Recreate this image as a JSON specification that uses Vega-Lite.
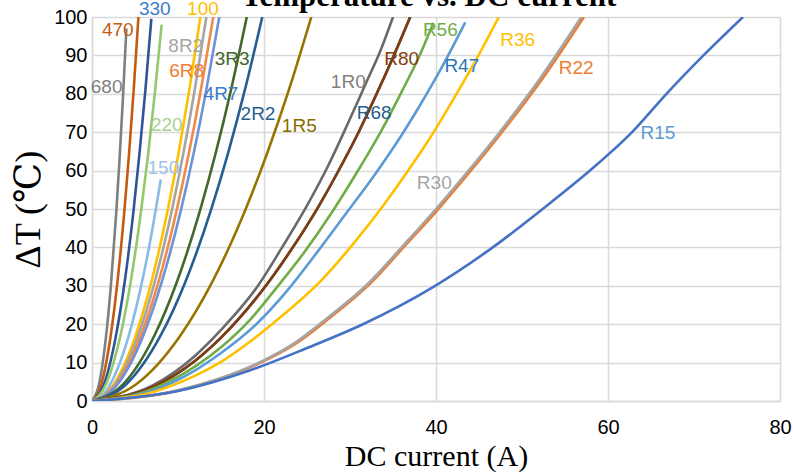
{
  "$schema": "https://vega.github.io/schema/vega-lite/v6.json",
  "width": 688,
  "height": 384,
  "autosize": "none",
  "padding": {"left": 92, "top": 17, "right": 13, "bottom": 71},
  "background": "white",
  "title": {
    "text": "Temperature vs. DC current",
    "font": "Liberation Serif",
    "fontSize": 31,
    "fontWeight": "bold",
    "color": "#000000",
    "anchor": "middle",
    "baseline": "alphabetic",
    "offset": -37,
    "dx": -7
  },
  "config": {
    "view": {"stroke": null},
    "axis": {
      "grid": true,
      "gridColor": "#D9D9D9",
      "gridWidth": 1.5,
      "domainColor": "#D9D9D9",
      "domainWidth": 1.5,
      "ticks": false,
      "labelFont": "Liberation Sans Narrow, Liberation Sans",
      "labelFontSize": 20,
      "labelColor": "#000000",
      "titleFont": "Liberation Serif, DejaVu Serif",
      "titleFontWeight": "normal",
      "titleColor": "#000000"
    }
  },
  "datasets": {
    "curves": [
      {"s": "R68", "I": 0, "T": 0}, {"s": "R68", "I": 7, "T": 3.6}, {"s": "R68", "I": 12, "T": 10.5}, {"s": "R68", "I": 15, "T": 16.5}, {"s": "R68", "I": 19.7, "T": 28.5}, {"s": "R68", "I": 23.2, "T": 39.5}, {"s": "R68", "I": 26.3, "T": 50.5}, {"s": "R68", "I": 28.6, "T": 59.7}, {"s": "R68", "I": 31, "T": 70}, {"s": "R68", "I": 33.1, "T": 80}, {"s": "R68", "I": 35.1, "T": 90}, {"s": "R68", "I": 37, "T": 100},

      {"s": "680", "I": 0, "T": 0}, {"s": "680", "I": 0.8, "T": 4.2}, {"s": "680", "I": 1.6, "T": 16.2}, {"s": "680", "I": 2.2, "T": 30.2}, {"s": "680", "I": 2.8, "T": 48.4}, {"s": "680", "I": 3.2, "T": 62.8}, {"s": "680", "I": 3.6, "T": 79}, {"s": "680", "I": 4.0, "T": 97},
      {"s": "470", "I": 0, "T": 0}, {"s": "470", "I": 1.08, "T": 4.3}, {"s": "470", "I": 2.16, "T": 16.8}, {"s": "470", "I": 2.97, "T": 31.2}, {"s": "470", "I": 3.78, "T": 49.9}, {"s": "470", "I": 4.32, "T": 64.7}, {"s": "470", "I": 4.86, "T": 81.4}, {"s": "470", "I": 5.4, "T": 100},
      {"s": "330", "I": 0, "T": 0}, {"s": "330", "I": 1.38, "T": 4.3}, {"s": "330", "I": 2.76, "T": 16.7}, {"s": "330", "I": 3.8, "T": 31}, {"s": "330", "I": 4.83, "T": 49.6}, {"s": "330", "I": 5.52, "T": 64.4}, {"s": "330", "I": 6.21, "T": 81}, {"s": "330", "I": 6.9, "T": 99.5},
      {"s": "220", "I": 0, "T": 0}, {"s": "220", "I": 1.62, "T": 4.3}, {"s": "220", "I": 3.24, "T": 16.4}, {"s": "220", "I": 4.46, "T": 30.5}, {"s": "220", "I": 5.67, "T": 48.9}, {"s": "220", "I": 6.48, "T": 63.4}, {"s": "220", "I": 7.29, "T": 79.8}, {"s": "220", "I": 8.1, "T": 98},
      {"s": "150", "I": 0, "T": 0}, {"s": "150", "I": 1.6, "T": 2.5}, {"s": "150", "I": 3.2, "T": 9.7}, {"s": "150", "I": 4.4, "T": 18}, {"s": "150", "I": 5.6, "T": 28.8}, {"s": "150", "I": 6.4, "T": 37.3}, {"s": "150", "I": 7.2, "T": 47}, {"s": "150", "I": 8.0, "T": 57.7},
      {"s": "100", "I": 0, "T": 0}, {"s": "100", "I": 2.52, "T": 4.3}, {"s": "100", "I": 5.04, "T": 16.8}, {"s": "100", "I": 6.93, "T": 31.2}, {"s": "100", "I": 8.82, "T": 49.9}, {"s": "100", "I": 10.08, "T": 64.7}, {"s": "100", "I": 11.34, "T": 81.4}, {"s": "100", "I": 12.6, "T": 100},
      {"s": "8R2", "I": 0, "T": 0}, {"s": "8R2", "I": 2.66, "T": 4.3}, {"s": "8R2", "I": 5.32, "T": 16.8}, {"s": "8R2", "I": 7.32, "T": 31.2}, {"s": "8R2", "I": 9.31, "T": 49.9}, {"s": "8R2", "I": 10.64, "T": 64.7}, {"s": "8R2", "I": 11.97, "T": 81.4}, {"s": "8R2", "I": 13.3, "T": 100},
      {"s": "6R8", "I": 0, "T": 0}, {"s": "6R8", "I": 2.82, "T": 4.3}, {"s": "6R8", "I": 5.64, "T": 16.8}, {"s": "6R8", "I": 7.76, "T": 31.2}, {"s": "6R8", "I": 9.87, "T": 49.9}, {"s": "6R8", "I": 11.28, "T": 64.7}, {"s": "6R8", "I": 12.69, "T": 81.4}, {"s": "6R8", "I": 14.1, "T": 100},
      {"s": "4R7", "I": 0, "T": 0}, {"s": "4R7", "I": 2.96, "T": 4.3}, {"s": "4R7", "I": 5.92, "T": 16.8}, {"s": "4R7", "I": 8.14, "T": 31.2}, {"s": "4R7", "I": 10.36, "T": 49.9}, {"s": "4R7", "I": 11.84, "T": 64.7}, {"s": "4R7", "I": 13.32, "T": 81.4}, {"s": "4R7", "I": 14.8, "T": 100},
      {"s": "3R3", "I": 0, "T": 0}, {"s": "3R3", "I": 3.6, "T": 4.3}, {"s": "3R3", "I": 7.2, "T": 16.8}, {"s": "3R3", "I": 9.9, "T": 31.2}, {"s": "3R3", "I": 12.6, "T": 49.9}, {"s": "3R3", "I": 14.4, "T": 64.7}, {"s": "3R3", "I": 16.2, "T": 81.4}, {"s": "3R3", "I": 18.0, "T": 100},
      {"s": "2R2", "I": 0, "T": 0}, {"s": "2R2", "I": 3.96, "T": 4.3}, {"s": "2R2", "I": 7.92, "T": 16.8}, {"s": "2R2", "I": 10.89, "T": 31.2}, {"s": "2R2", "I": 13.86, "T": 49.9}, {"s": "2R2", "I": 15.84, "T": 64.7}, {"s": "2R2", "I": 17.82, "T": 81.4}, {"s": "2R2", "I": 19.8, "T": 100},
      {"s": "1R5", "I": 0, "T": 0}, {"s": "1R5", "I": 5.1, "T": 4.3}, {"s": "1R5", "I": 10.2, "T": 16.8}, {"s": "1R5", "I": 14.03, "T": 31.2}, {"s": "1R5", "I": 17.85, "T": 49.9}, {"s": "1R5", "I": 20.4, "T": 64.7}, {"s": "1R5", "I": 22.95, "T": 81.4}, {"s": "1R5", "I": 25.5, "T": 100},
      {"s": "1R0", "I": 0, "T": 0}, {"s": "1R0", "I": 7, "T": 4}, {"s": "1R0", "I": 12, "T": 11.8}, {"s": "1R0", "I": 15, "T": 18.5}, {"s": "1R0", "I": 19.3, "T": 30}, {"s": "1R0", "I": 22.1, "T": 40}, {"s": "1R0", "I": 24.9, "T": 50.5}, {"s": "1R0", "I": 27.4, "T": 61}, {"s": "1R0", "I": 29.7, "T": 72}, {"s": "1R0", "I": 31.9, "T": 83}, {"s": "1R0", "I": 33.5, "T": 91}, {"s": "1R0", "I": 35, "T": 100},
      {"s": "R80", "I": 0, "T": 0}, {"s": "R80", "I": 7, "T": 3.6}, {"s": "R80", "I": 12, "T": 10.5}, {"s": "R80", "I": 15, "T": 16.5}, {"s": "R80", "I": 19.7, "T": 28.5}, {"s": "R80", "I": 23.2, "T": 39.5}, {"s": "R80", "I": 26.3, "T": 50.5}, {"s": "R80", "I": 28.6, "T": 59.7}, {"s": "R80", "I": 31, "T": 70}, {"s": "R80", "I": 33.1, "T": 80}, {"s": "R80", "I": 35.1, "T": 90}, {"s": "R80", "I": 37, "T": 100},
      {"s": "R56", "I": 0, "T": 0}, {"s": "R56", "I": 7, "T": 3.1}, {"s": "R56", "I": 12, "T": 9}, {"s": "R56", "I": 15, "T": 14}, {"s": "R56", "I": 18.4, "T": 21.2}, {"s": "R56", "I": 21.1, "T": 28.5}, {"s": "R56", "I": 24.6, "T": 38.5}, {"s": "R56", "I": 28, "T": 49.5}, {"s": "R56", "I": 31.2, "T": 61}, {"s": "R56", "I": 33.8, "T": 71}, {"s": "R56", "I": 36, "T": 80.5}, {"s": "R56", "I": 38, "T": 89.5}, {"s": "R56", "I": 39.7, "T": 98.5},
      {"s": "R47", "I": 0, "T": 0}, {"s": "R47", "I": 7, "T": 2.7}, {"s": "R47", "I": 12, "T": 8}, {"s": "R47", "I": 15, "T": 12.5}, {"s": "R47", "I": 19.1, "T": 20}, {"s": "R47", "I": 22.8, "T": 29}, {"s": "R47", "I": 26.1, "T": 38.5}, {"s": "R47", "I": 29.6, "T": 49}, {"s": "R47", "I": 32.9, "T": 59}, {"s": "R47", "I": 35.5, "T": 67.5}, {"s": "R47", "I": 38, "T": 76.5}, {"s": "R47", "I": 40.7, "T": 87}, {"s": "R47", "I": 43.4, "T": 98.6},
      {"s": "R36", "I": 0, "T": 0}, {"s": "R36", "I": 7, "T": 2.3}, {"s": "R36", "I": 12, "T": 6.6}, {"s": "R36", "I": 15, "T": 10.2}, {"s": "R36", "I": 18.4, "T": 15.5}, {"s": "R36", "I": 22, "T": 22}, {"s": "R36", "I": 26.7, "T": 31.5}, {"s": "R36", "I": 30.4, "T": 41}, {"s": "R36", "I": 33.9, "T": 51}, {"s": "R36", "I": 36.6, "T": 59.5}, {"s": "R36", "I": 39.3, "T": 68.5}, {"s": "R36", "I": 42, "T": 78.5}, {"s": "R36", "I": 44.7, "T": 89}, {"s": "R36", "I": 47.3, "T": 100},
      {"s": "R22", "I": 0, "T": 0}, {"s": "R22", "I": 10, "T": 2.7}, {"s": "R22", "I": 15, "T": 5.9}, {"s": "R22", "I": 20, "T": 10.4}, {"s": "R22", "I": 23.6, "T": 14.8}, {"s": "R22", "I": 27.4, "T": 21.2}, {"s": "R22", "I": 32.4, "T": 30.7}, {"s": "R22", "I": 36.3, "T": 40.2}, {"s": "R22", "I": 40.2, "T": 49.8}, {"s": "R22", "I": 43.8, "T": 59.3}, {"s": "R22", "I": 47.6, "T": 69.8}, {"s": "R22", "I": 52.4, "T": 84}, {"s": "R22", "I": 57.2, "T": 100},
      {"s": "R30", "I": 0, "T": 0}, {"s": "R30", "I": 10, "T": 2.8}, {"s": "R30", "I": 15, "T": 6}, {"s": "R30", "I": 19.9, "T": 10.5}, {"s": "R30", "I": 23.5, "T": 15}, {"s": "R30", "I": 27.3, "T": 21.5}, {"s": "R30", "I": 32.3, "T": 31}, {"s": "R30", "I": 36.2, "T": 40.5}, {"s": "R30", "I": 40, "T": 50}, {"s": "R30", "I": 43.6, "T": 59.5}, {"s": "R30", "I": 47.4, "T": 70}, {"s": "R30", "I": 52.1, "T": 84}, {"s": "R30", "I": 56.9, "T": 100},
      {"s": "R15", "I": 0, "T": 0}, {"s": "R15", "I": 10, "T": 2.6}, {"s": "R15", "I": 18.4, "T": 8}, {"s": "R15", "I": 25, "T": 13.8}, {"s": "R15", "I": 31.5, "T": 20}, {"s": "R15", "I": 39.9, "T": 30}, {"s": "R15", "I": 46.6, "T": 40}, {"s": "R15", "I": 52.4, "T": 50}, {"s": "R15", "I": 57.9, "T": 60}, {"s": "R15", "I": 62.8, "T": 70}, {"s": "R15", "I": 66.8, "T": 80}, {"s": "R15", "I": 71.1, "T": 90}, {"s": "R15", "I": 75.7, "T": 100}
    ],
    "labels": [
      {"s": "470", "I": 3.0, "T": 96.7},
      {"s": "330", "I": 7.3, "T": 102},
      {"s": "100", "I": 12.9, "T": 102},
      {"s": "8R2", "I": 10.9, "T": 92.5},
      {"s": "6R8", "I": 11.0, "T": 86},
      {"s": "3R3", "I": 16.3, "T": 89},
      {"s": "680", "I": 1.7, "T": 81.8},
      {"s": "4R7", "I": 15.0, "T": 80},
      {"s": "220", "I": 8.7, "T": 72},
      {"s": "2R2", "I": 19.3, "T": 74.8},
      {"s": "1R5", "I": 24.1, "T": 71.7},
      {"s": "150", "I": 8.3, "T": 60.7},
      {"s": "1R0", "I": 29.8, "T": 83},
      {"s": "R80", "I": 36.0, "T": 89},
      {"s": "R56", "I": 40.5, "T": 96.5},
      {"s": "R68", "I": 32.8, "T": 75},
      {"s": "R47", "I": 43.0, "T": 87.3},
      {"s": "R36", "I": 49.5, "T": 94},
      {"s": "R22", "I": 56.3, "T": 86.8},
      {"s": "R30", "I": 39.8, "T": 56.8},
      {"s": "R15", "I": 65.8, "T": 69.8}
    ]
  },
  "encoding": {
    "x": {
      "field": "I", "type": "quantitative",
      "scale": {"domain": [0, 80], "nice": false, "zero": true},
      "axis": {"values": [0, 20, 40, 60, 80], "title": "DC current (A)", "titleFontSize": 30, "labelPadding": 16, "titlePadding": 4, "labelFlush": false}
    },
    "y": {
      "field": "T", "type": "quantitative",
      "scale": {"domain": [0, 100], "nice": false},
      "axis": {"values": [0, 10, 20, 30, 40, 50, 60, 70, 80, 90, 100], "title": "ΔT (℃)", "titleFontSize": 36, "labelPadding": 5, "titlePadding": 6}
    }
  },
  "layer": [
    {
      "data": {"name": "curves"},
      "transform": [{"filter": "datum.s === 'R68'"}],
      "mark": {"type": "line", "strokeWidth": 2.6, "interpolate": "monotone", "clip": true},
      "encoding": {
        "detail": {"field": "s"},
        "stroke": {"field": "s", "type": "nominal", "legend": null, "scale": {
          "domain": ["680", "470", "330", "220", "150", "100", "8R2", "6R8", "4R7", "3R3", "2R2", "1R5", "1R0", "R80", "R68", "R56", "R47", "R36", "R22", "R30", "R15"],
          "range": ["#808080", "#C55A11", "#2F5597", "#92C86E", "#88BCE8", "#FFC000", "#A5A5A5", "#F08A4B", "#6C93D9", "#43682B", "#255E91", "#997300", "#696969", "#843C0C", "#255E91", "#70AD47", "#5B9BD5", "#FFC000", "#ED7D31", "#A5A5A5", "#4472C4"]
        }}
      }
    },
    {
      "data": {"name": "curves"},
      "transform": [{"filter": "datum.s !== 'R68'"}],
      "mark": {"type": "line", "strokeWidth": 2.6, "interpolate": "monotone", "clip": true},
      "encoding": {
        "detail": {"field": "s"},
        "stroke": {"field": "s", "type": "nominal", "legend": null}
      }
    },
    {
      "data": {"name": "labels"},
      "mark": {"type": "text", "font": "Liberation Sans", "fontSize": 19, "align": "center", "baseline": "middle", "clip": false},
      "encoding": {
        "text": {"field": "s"},
        "fill": {"field": "s", "type": "nominal", "legend": null, "scale": {
          "domain": ["680", "470", "330", "220", "150", "100", "8R2", "6R8", "4R7", "3R3", "2R2", "1R5", "1R0", "R80", "R68", "R56", "R47", "R36", "R22", "R30", "R15"],
          "range": ["#7F7F7F", "#C55A11", "#3A7CC9", "#A9D18E", "#9DC3E6", "#FFC000", "#A5A5A5", "#ED7D31", "#3A7CC9", "#43682B", "#255E91", "#8B6B00", "#7F7F7F", "#843C0C", "#255E91", "#70AD47", "#2E75B6", "#FFC000", "#ED7D31", "#A5A5A5", "#5B9BD5"]
        }}
      }
    }
  ]
}
